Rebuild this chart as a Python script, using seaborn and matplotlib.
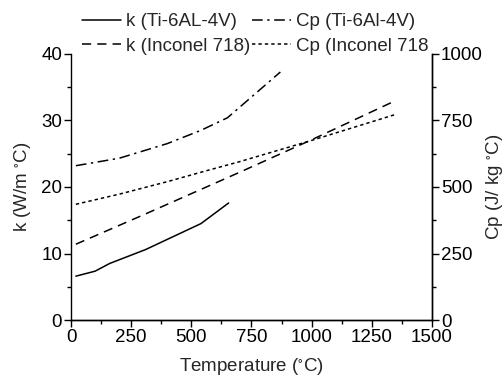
import matplotlib
matplotlib.use("Agg")
import matplotlib.pyplot as plt
import seaborn as sns
from matplotlib.ticker import MultipleLocator

# data
t_k_ti = [20, 100, 160, 310, 540, 655]
k_ti = [6.6, 7.35, 8.5, 10.6, 14.5, 17.6]

t_k_in = [20, 300, 700, 1000, 1350]
k_in = [11.4, 15.8, 22.2, 27.1, 33.0]

t_cp_ti = [20, 200, 400, 540, 650, 870]
cp_ti = [580, 608, 663, 713, 760, 932]

t_cp_in = [20, 200, 400, 550, 700, 1000, 1350]
cp_in = [435, 473, 520, 558, 595, 675, 773]

sns.set_style("ticks")
plt.rcParams["font.family"] = ["Liberation Sans", "DejaVu Sans"]
plt.rcParams["font.size"] = 13.5
plt.rcParams["mathtext.default"] = "regular"

fig = plt.figure(figsize=(5.04, 3.77), dpi=100)
ax = fig.add_axes([0.141, 0.151, 0.716, 0.706])
ax2 = ax.twinx()

sns.lineplot(x=t_k_ti, y=k_ti, ax=ax, color="black", lw=1.1, label="k (Ti-6AL-4V)", legend=False)
sns.lineplot(x=t_k_in, y=k_in, ax=ax, color="black", lw=1.1, label="k (Inconel 718)", legend=False)
ax.lines[1].set_dashes([6, 4])
sns.lineplot(x=t_cp_ti, y=cp_ti, ax=ax2, color="black", lw=1.1, label="Cp (Ti-6Al-4V)", legend=False)
ax2.lines[0].set_dashes([7, 3, 1.5, 3])
sns.lineplot(x=t_cp_in, y=cp_in, ax=ax2, color="black", lw=1.1, label="Cp (Inconel 718", legend=False)
ax2.lines[1].set_dashes([2.2, 2])

ax.set_xlim(0, 1500)
ax.set_ylim(0, 40)
ax2.set_ylim(0, 1000)
ax.xaxis.set_major_locator(MultipleLocator(250))
ax.xaxis.set_minor_locator(MultipleLocator(125))
ax.yaxis.set_major_locator(MultipleLocator(10))
ax.yaxis.set_minor_locator(MultipleLocator(5))
ax2.yaxis.set_major_locator(MultipleLocator(250))
ax2.yaxis.set_minor_locator(MultipleLocator(125))

for a in (ax, ax2):
    a.spines["top"].set_visible(False)
    for s in a.spines.values():
        s.set_linewidth(1.0)
        s.set_color("black")
    a.tick_params(which="major", length=5, width=1, direction="out", colors="black", pad=1.5)
    a.tick_params(which="minor", length=3, width=1, direction="out", colors="black")
ax2.spines["left"].set_visible(False)

ax.set_xlabel("Temperature ($^{\\circ}$C)", labelpad=7)
ax.set_ylabel("k (W/m $^{\\circ}$C)", labelpad=6)
ax2.set_ylabel("Cp (J/ kg $^{\\circ}$C)", labelpad=1)

handles = [ax.lines[0], ax.lines[1], ax2.lines[0], ax2.lines[1]]
labels = [h.get_label() for h in handles]
fig.legend(handles, labels, ncol=2, loc="upper left", bbox_to_anchor=(0.14, 0.995),
           frameon=False, handlelength=2.1, handletextpad=0.25, columnspacing=0.1,
           labelspacing=0.4, borderaxespad=0.2)

fig.savefig("out.png", dpi=100)
